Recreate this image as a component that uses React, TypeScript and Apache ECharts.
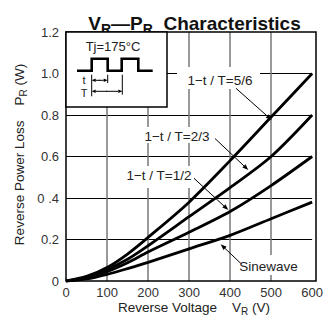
import React, { useEffect, useRef } from "react";
import * as echarts from "echarts";

// ---- data ----
const voltages = [0, 50, 100, 150, 200, 300, 400, 500, 600];
const duty56 = [0, 0.022, 0.065, 0.13, 0.21, 0.38, 0.58, 0.79, 1.0];
const duty23 = [0, 0.018, 0.055, 0.105, 0.17, 0.31, 0.45, 0.6, 0.8];
const duty12 = [0, 0.014, 0.045, 0.088, 0.14, 0.235, 0.335, 0.46, 0.6];
const sinewave = [0, 0.01, 0.032, 0.06, 0.09, 0.155, 0.22, 0.3, 0.38];

const xTickLabels = ["0", "100", "200", "300", "400", "500", "600"];
const yTickLabels = ["0", "0.2", "0 .4", "0.6", "0.8", "1.0", "1.2"];

const FONT = "'Liberation Sans', Arial, Helvetica, sans-serif";

function arrow(x1: number, y1: number, x2: number, y2: number, head = 6, half = 2.3) {
  const dx = x2 - x1, dy = y2 - y1;
  const L = Math.hypot(dx, dy);
  const ux = dx / L, uy = dy / L;
  const bx = x2 - ux * head, by = y2 - uy * head;
  return [
    { type: "line", z: 100, shape: { x1, y1, x2: bx, y2: by }, style: { stroke: "#000", lineWidth: 1 } },
    {
      type: "polygon", z: 100,
      shape: { points: [[x2, y2], [bx - uy * half, by + ux * half], [bx + uy * half, by - ux * half]] },
      style: { fill: "#000" },
    },
  ];
}

function txt(x: number, y: number, text: string, size: number, extra: any = {}) {
  return {
    type: "text", z: 101, x, y,
    style: {
      text, fontSize: size, fontFamily: FONT, fill: "#222",
      align: "center", verticalAlign: "middle", textAlign: "center", textVerticalAlign: "middle",
      ...extra,
    },
  };
}

function whiteRect(x: number, y: number, w: number, h: number) {
  return { type: "rect", z: 99, shape: { x, y, width: w, height: h }, style: { fill: "#fff" } };
}

export default function App() {
  const ref = useRef<HTMLDivElement>(null);
  useEffect(() => {
    if (!ref.current) return;
    const chart = echarts.init(ref.current, undefined, { renderer: "svg" });
    const mk = (vals: number[]) => voltages.map((v, i) => [v, vals[i]]);
    const lineSeries = (name: string, vals: number[]) => ({
      name, type: "line", data: mk(vals), smooth: 0.3,
      showSymbol: false, silent: true, z: 5,
      lineStyle: { color: "#000", width: 2.8 },
    });

    const subRich = {
      m: { fontSize: 13.5, fontFamily: FONT, color: "#222", lineHeight: 18 },
      s: { fontSize: 10, fontFamily: FONT, color: "#222", lineHeight: 12, verticalAlign: "bottom" },
    };

    const graphic: any[] = [
      // inset box
      { type: "rect", z: 98, shape: { x: 66, y: 32, width: 101, height: 75 }, style: { fill: "#fff", stroke: "#000", lineWidth: 1.5 } },
      txt(113, 46.5, "Tj=175°C", 13),
      {
        type: "polyline", z: 100,
        shape: { points: [[77, 70.7], [91.7, 70.7], [91.7, 58.7], [107.7, 58.7], [107.7, 70.7], [121.7, 70.7], [121.7, 58.7], [138.3, 58.7], [138.3, 70.7], [152.7, 70.7]] },
        style: { stroke: "#000", lineWidth: 2.6, fill: null },
      },
      txt(84, 79.5, "t", 11),
      txt(84, 92.5, "T", 11),
      { type: "line", z: 100, shape: { x1: 91.7, y1: 74.7, x2: 91.7, y2: 96.3 }, style: { stroke: "#000", lineWidth: 1 } },
      { type: "line", z: 100, shape: { x1: 107.7, y1: 74.7, x2: 107.7, y2: 83 }, style: { stroke: "#000", lineWidth: 1 } },
      { type: "line", z: 100, shape: { x1: 122.3, y1: 74.7, x2: 122.3, y2: 94.7 }, style: { stroke: "#000", lineWidth: 1 } },
      ...arrow(100, 80.3, 91.7, 80.3, 4, 1.8),
      ...arrow(99, 80.3, 107.7, 80.3, 4, 1.8),
      ...arrow(107, 91.3, 91.7, 91.3, 4, 1.8),
      ...arrow(106, 91.3, 122.3, 91.3, 4, 1.8),

      // plot border
      { type: "rect", z: 97, shape: { x: 66, y: 32, width: 250, height: 249 }, style: { fill: null, stroke: "#000", lineWidth: 1.5 } },

      // annotations
      whiteRect(177, 67, 83, 22),
      txt(220, 80.5, "1−t / T=5/6", 13.5),
      ...arrow(236, 88.3, 271.7, 120),
      whiteRect(142, 127, 70, 16),
      txt(177, 136, "1−t / T=2/3", 13.5),
      ...arrow(215, 138.5, 248.3, 170),
      whiteRect(124, 166, 69, 22),
      txt(159, 175, "1−t / T=1/2", 13.5),
      ...arrow(194, 178.3, 228.3, 210),
      whiteRect(237, 255, 63, 20),
      txt(268.5, 266.3, "Sinewave", 13.5),
      ...arrow(240.7, 263.3, 220.7, 244.3),

      // axis names
      {
        type: "text", z: 101, x: 194, y: 307,
        style: {
          text: "{m|Reverse Voltage    V}{s|R}{m| (V)}", rich: subRich,
          align: "center", verticalAlign: "middle", textAlign: "center", textVerticalAlign: "middle",
          fontFamily: FONT, fontSize: 13.5, fill: "#222",
        },
      },
      {
        type: "text", z: 101, x: 19, y: 154.5, rotation: Math.PI / 2,
        style: {
          text: "{m|Reverse Power Loss    P}{s|R}{m| (W)}", rich: subRich,
          align: "center", verticalAlign: "middle", textAlign: "center", textVerticalAlign: "middle",
          fontFamily: FONT, fontSize: 13.5, fill: "#222",
        },
      },
    ];

    chart.setOption({
      animation: false,
      backgroundColor: "#fff",
      title: {
        text: "{m|V}{s|R}{m|—P}{s|R}{m|  Characteristics}",
        left: 189.5, top: 6, textAlign: "center",
        textStyle: {
          rich: {
            m: { fontSize: 19, fontWeight: "bold", fontFamily: FONT, color: "#111", lineHeight: 25 },
            s: { fontSize: 14, fontWeight: "bold", fontFamily: FONT, color: "#111", lineHeight: 17, verticalAlign: "bottom" },
          },
        },
      },
      grid: { left: 66, right: 10, top: 32, bottom: 39, containLabel: false },
      xAxis: {
        type: "value", min: 0, max: 600, interval: 100,
        axisLine: { show: false }, axisTick: { show: false },
        axisLabel: {
          formatter: (v: number) => xTickLabels[Math.round(v / 100)],
          color: "#333", fontSize: 13, fontFamily: FONT, margin: 5,
        },
        splitLine: { show: true, showMinLine: false, showMaxLine: false, lineStyle: { color: "#777", width: 1.5 } },
      },
      yAxis: {
        type: "value", min: 0, max: 1.2, interval: 0.2,
        axisLine: { show: false }, axisTick: { show: false },
        axisLabel: {
          formatter: (v: number) => yTickLabels[Math.round(v / 0.2)],
          color: "#333", fontSize: 13, fontFamily: FONT, margin: 7,
        },
        splitLine: { show: true, showMinLine: false, showMaxLine: false, lineStyle: { color: "#000", width: 1 } },
      },
      series: [
        lineSeries("5/6", duty56),
        lineSeries("2/3", duty23),
        lineSeries("1/2", duty12),
        lineSeries("Sinewave", sinewave),
      ],
      graphic,
    });
    return () => chart.dispose();
  }, []);
  return <div ref={ref} style={{ position: "absolute", left: 0, top: 0, width: 326, height: 320 }} />;
}
